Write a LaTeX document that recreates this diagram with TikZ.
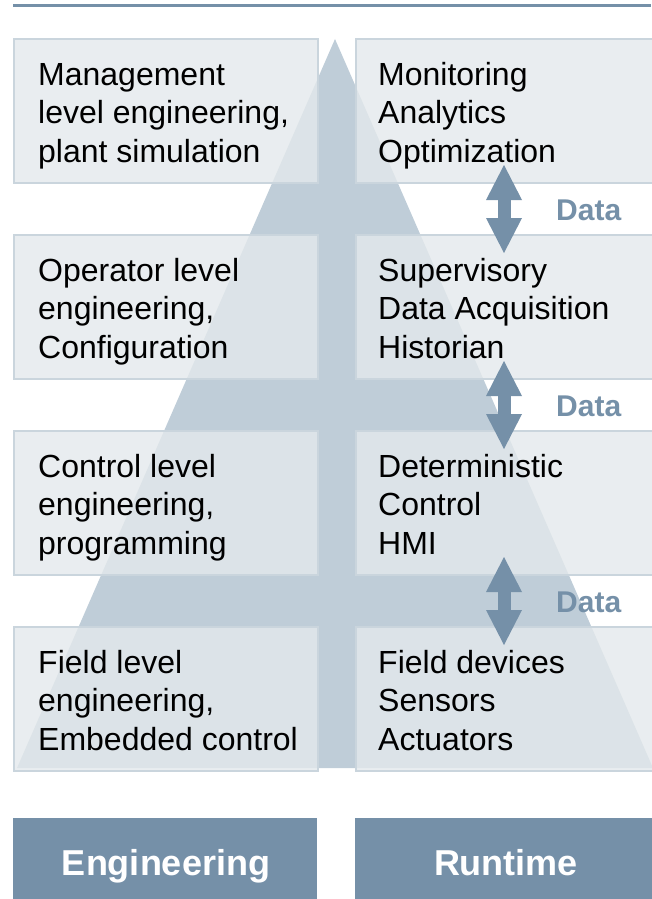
\documentclass[tikz,border=0pt]{standalone}
\usepackage{fontspec}
\setmainfont{Liberation Sans}
\usetikzlibrary{arrows.meta}
\definecolor{steel}{HTML}{7590A8}
\definecolor{pyr}{HTML}{BFCDD8}
\definecolor{boxfill}{RGB}{228,233,236}
\definecolor{boxline}{HTML}{CAD5DD}
\tikzset{
  tier/.style={draw=boxline, line width=2pt, fill=boxfill, fill opacity=0.8,
    draw opacity=1, minimum height=144pt, anchor=north west, inner sep=0pt},
  leftbox/.style={tier, minimum width=304pt},
  rightbox/.style={tier, minimum width=320pt},
  % anchored at the baseline of the last of the three lines
  tiertext/.style={anchor=base west, inner sep=0pt, align=left, text=black,
    font=\fontsize{32}{38.5}\selectfont},
  datalabel/.style={anchor=base west, inner sep=0pt, text=steel,
    font=\bfseries\fontsize{30}{36}\selectfont},
  dataarrow/.style={draw=steel, line width=13pt,
    {Triangle[length=35pt,width=36pt,line width=0pt]}-{Triangle[length=35pt,width=36pt,line width=0pt]}},
  footbox/.style={fill=steel, minimum width=304pt, minimum height=81pt,
    anchor=north west, inner sep=0pt},
  foottext/.style={anchor=base, inner sep=0pt, text=white,
    font=\bfseries\fontsize{36}{43}\selectfont},
}
\begin{document}
\begin{tikzpicture}[x=1pt,y=-1pt]
\useasboundingbox (0,0) rectangle (651,899);

% rule along the top
\draw[steel, line width=3.5pt] (13,5.5) -- (651,5.5);

% the automation pyramid behind the tiers
\fill[pyr] (335,39) -- (17,768) -- (653,768) -- cycle;

% engineering tiers (left) and runtime tiers (right)
\node[leftbox]  (l1) at (13,38)  {};
\node[rightbox] (r1) at (355,38) {};
\node[leftbox]  (l2) at (13,234) {};
\node[rightbox] (r2) at (355,234) {};
\node[leftbox]  (l3) at (13,430) {};
\node[rightbox] (r3) at (355,430) {};
\node[leftbox]  (l4) at (13,626) {};
\node[rightbox] (r4) at (355,626) {};

\node[tiertext] (t1l) at (38,162)  {Management\\level engineering,\\plant simulation};
\node[tiertext] (t1r) at (378,162) {Monitoring\\Analytics\\Optimization};
\node[tiertext] (t2l) at (38,358)  {Operator level\\engineering,\\Configuration};
\node[tiertext] (t2r) at (378,358) {Supervisory\\Data Acquisition\\Historian};
\node[tiertext] (t3l) at (38,554)  {Control level\\engineering,\\programming};
\node[tiertext] (t3r) at (378,554) {Deterministic\\Control\\HMI};
\node[tiertext] (t4l) at (38,750)  {Field level\\engineering,\\Embedded control};
\node[tiertext] (t4r) at (378,750) {Field devices\\Sensors\\Actuators};

% data exchange between runtime tiers
\coordinate (d1a) at (504,165); \coordinate (d1b) at (504,253);
\coordinate (d2a) at (504,361); \coordinate (d2b) at (504,449);
\coordinate (d3a) at (504,557); \coordinate (d3b) at (504,645);
\draw[dataarrow] (d1a) -- (d1b);
\draw[dataarrow] (d2a) -- (d2b);
\draw[dataarrow] (d3a) -- (d3b);
\node[datalabel] (dl1) at (556,220.7) {Data};
\node[datalabel] (dl2) at (556,416.7) {Data};
\node[datalabel] (dl3) at (556,612.7) {Data};

% column captions
\node[footbox] (eng) at (13,818) {};
\node[footbox] (run) at (355,818) {};
\node[foottext] (engt) at (166,875) {Engineering};
\node[foottext] (runt) at (506,875) {Runtime};
\end{tikzpicture}
\end{document}
